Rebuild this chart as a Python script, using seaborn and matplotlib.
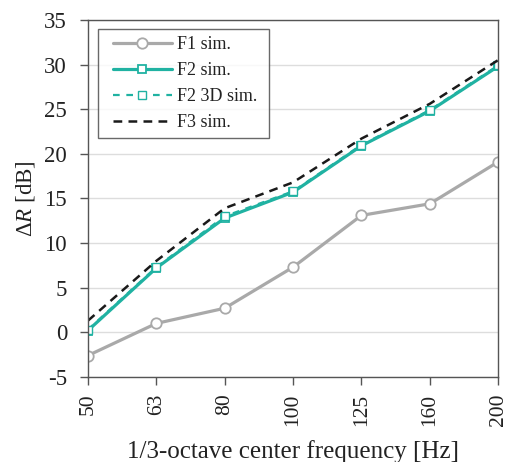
import matplotlib
import pandas as pd

matplotlib.use("Agg")
import matplotlib.pyplot as plt
import seaborn as sns
from matplotlib.legend_handler import HandlerLine2D
from matplotlib.lines import Line2D

FREQ_LABELS = ["50", "63", "80", "100", "125", "160", "200"]
F1_SIM = [-2.6, 1.0, 2.7, 7.3, 13.1, 14.4, 19.1]
F2_SIM = [0.2, 7.2, 12.8, 15.7, 20.9, 24.8, 29.8]
F2_3D_SIM = [0.3, 7.3, 13.0, 15.8, 21.0, 24.9, 29.9]
F3_SIM = [1.3, 8.0, 13.9, 16.8, 21.7, 25.6, 30.5]

GRAY = "#a9a9a9"
TEAL = "#20b2a2"


def main():
    sns.set_theme(style="white")
    plt.rcParams["font.family"] = ["Liberation Serif", "DejaVu Serif"]
    plt.rcParams["mathtext.fontset"] = "custom"
    plt.rcParams["mathtext.it"] = "Liberation Serif:italic"
    plt.rcParams["mathtext.rm"] = "Liberation Serif"
    plt.rcParams["axes.unicode_minus"] = False

    df = pd.DataFrame({
        "pos": range(len(FREQ_LABELS)),
        "F1": F1_SIM,
        "F2": F2_SIM,
        "F2_3D": F2_3D_SIM,
        "F3": F3_SIM,
    })

    fig = plt.figure(figsize=(5.11, 4.62), dpi=100)
    ax = fig.add_axes([0.172, 0.184, 0.803, 0.773])

    sns.lineplot(data=df, x="pos", y="F1", ax=ax, color=GRAY, linewidth=2.3,
                 marker="o", markersize=7.5, markerfacecolor="white",
                 markeredgecolor=GRAY, markeredgewidth=1.3, label="F1 sim.")
    sns.lineplot(data=df, x="pos", y="F2", ax=ax, color=TEAL, linewidth=2.3,
                 marker="s", markersize=6, markerfacecolor="white",
                 markeredgecolor=TEAL, markeredgewidth=1.3, label="F2 sim.")
    sns.lineplot(data=df, x="pos", y="F2_3D", ax=ax, color=TEAL, linewidth=1.6,
                 linestyle=(0, (3, 3)), marker="s", markersize=6,
                 markerfacecolor="white", markeredgecolor=TEAL,
                 markeredgewidth=1.0, label="F2 3D sim.")
    sns.lineplot(data=df, x="pos", y="F3", ax=ax, color="#1a1a1a", linewidth=1.8,
                 linestyle=(0, (3.5, 2.5)), label="F3 sim.")

    ax.set_xlim(0, len(FREQ_LABELS) - 1)
    ax.set_ylim(-5, 35)
    ax.set_xticks(range(len(FREQ_LABELS)))
    ax.set_xticklabels(FREQ_LABELS, rotation=90)
    ax.set_yticks(range(-5, 36, 5))
    ax.yaxis.grid(True, color="#dddddd", linewidth=1.0)
    ax.set_axisbelow(True)

    for side in ["left", "bottom", "right", "top"]:
        ax.spines[side].set_color("#555555")
        ax.spines[side].set_linewidth(1.0)
    ax.tick_params(axis="both", direction="out", length=6, width=1.0,
                   color="#555555", labelcolor="#222222",
                   left=True, bottom=True)
    ax.tick_params(axis="y", labelsize=16.5, pad=9)
    ax.tick_params(axis="x", labelsize=15.5, pad=6)

    ax.set_xlabel("1/3-octave center frequency [Hz]", fontsize=18,
                  color="#222222", labelpad=10)
    ax.set_ylabel(r"Δ$\it{R}$ [dB]", fontsize=16.5, color="#222222", labelpad=5)

    handles, labels = ax.get_legend_handles_labels()
    labels = [lab + " " for lab in labels]
    leg = ax.legend(handles, labels, loc="upper left",
                    bbox_to_anchor=(0.024, 0.975),
                    borderaxespad=0, fontsize=13,
                    frameon=True, fancybox=False, edgecolor="#444444",
                    handlelength=3.7, handletextpad=0.3, labelspacing=0.5,
                    borderpad=0.4,
                    handler_map={Line2D: HandlerLine2D(xpad=0.45)})
    leg.get_frame().set_linewidth(1.0)
    for text in leg.get_texts():
        text.set_color("#222222")

    fig.savefig("out.png", dpi=100)
    plt.close(fig)


if __name__ == "__main__":
    main()
